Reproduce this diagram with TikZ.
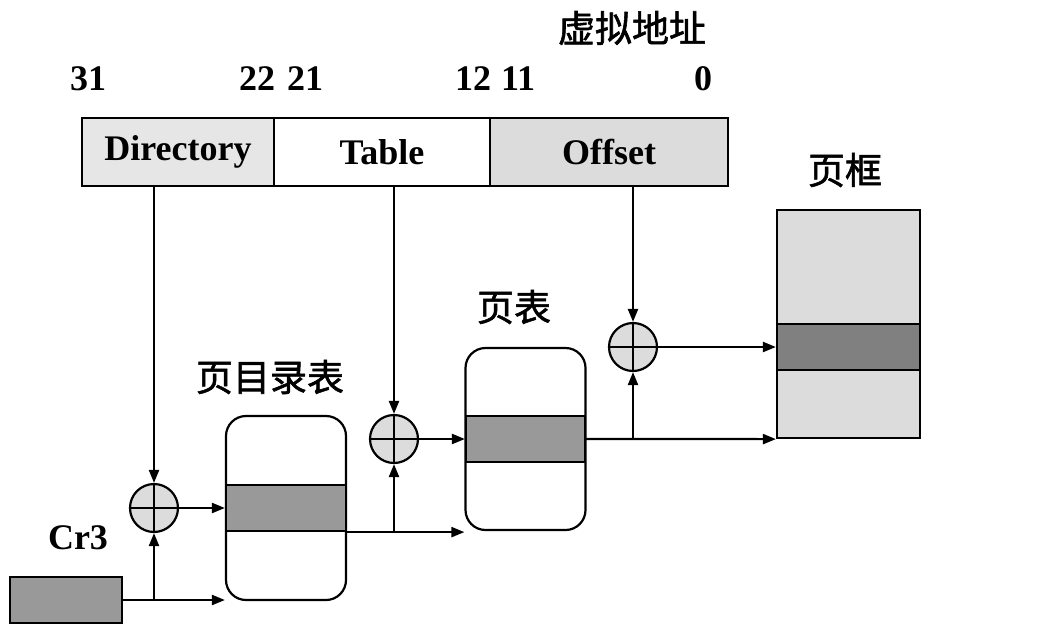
\documentclass[tikz,border=0pt]{standalone}
\usepackage{fontspec}
\setmainfont{Liberation Serif}
\newfontfamily\cjk{Noto Sans CJK SC}[FakeBold=1.5]
\usetikzlibrary{positioning,arrows.meta}

\definecolor{dirgray}{HTML}{E6E6E6}
\definecolor{litegray}{HTML}{DCDCDC}
\definecolor{midgray}{HTML}{999999}
\definecolor{darkgray}{HTML}{808080}

\tikzset{
  field/.style={draw, line width=2.2pt, minimum height=68pt, inner sep=0pt,
    font=\bfseries\fontsize{36}{36}\selectfont},
  memtab/.style={draw, line width=2.2pt, rounded corners=20pt, minimum width=120pt,
    minimum height=184pt, inner sep=0pt},
  entry/.style={draw, line width=2.2pt, fill=midgray, minimum height=46pt, inner sep=0pt},
  adder/.style={circle, draw, line width=2.2pt, fill=litegray, minimum size=48pt, inner sep=0pt,
    path picture={\draw[line width=2pt] (path picture bounding box.north) -- (path picture bounding box.south)
      (path picture bounding box.west) -- (path picture bounding box.east);}},
  lbl/.style={font=\bfseries\fontsize{36}{36}\selectfont},
  cnlbl/.style={font=\cjk\fontsize{37}{37}\selectfont}
}

\begin{document}
\begin{tikzpicture}[x=1pt, y=-1pt, line width=2.2pt, >={Triangle[length=13pt,width=10pt]}]
    \useasboundingbox (0,0) rectangle (1064,643);
    % virtual address
    \node[cnlbl] (va) at (632,28) {虚拟地址};
    \foreach \bit/\xx in {31/88, 22/257, 21/305, 12/473, 11/518, 0/703}
      \node[lbl] (b_\bit) at (\xx,79) {\bit};
    \node[field, fill=dirgray, minimum width=192pt] (dir) at (178,152) {Directory};
    \node[field, fill=white, minimum width=216pt]   (tab) at (382,152) {Table};
    \node[field, fill=litegray, minimum width=238pt] (off) at (609,152) {Offset};

    % cr3
    \node[lbl] (cr3_l) at (78,538) {Cr3};
    \node[draw, fill=midgray, minimum width=112pt, minimum height=46pt, inner sep=0pt] (cr3) at (66,600) {};

    % page directory
    \node[cnlbl] (pdt_l) at (270,377) {页目录表};
    \node[memtab] (pdt) at (286,508) {};
    \node[entry, minimum width=120pt] (pde) at (286,508) {};

    % page table
    \node[cnlbl] (pt_l) at (514,307) {页表};
    \node[memtab, minimum height=182pt] (pt) at (525.5,439) {};
    \node[entry, minimum width=119pt] (pte) at (525.5,439) {};

    % page frame
    \node[cnlbl] (pf_l) at (845,170) {页框};
    \node[draw, fill=litegray, minimum width=143pt, minimum height=228pt, inner sep=0pt] (pf) at (848.5,324) {};
    \node[draw, fill=darkgray, minimum width=143pt, minimum height=46pt, inner sep=0pt] (pfe) at (848.5,347) {};

    % adders
    \node[adder] (add_1) at (154,508) {};
    \node[adder] (add_2) at (394,439) {};
    \node[adder] (add_3) at (633,347) {};

    \draw[->] (add_1 |- dir.south) -- (add_1.north);
    \draw[->] (add_2 |- tab.south) -- (add_2.north);
    \draw[->] (add_3 |- off.south) -- (add_3.north);

    \draw[->] (cr3.east) -- (pdt.west |- cr3.east);
    \draw[->] (add_1 |- cr3.east) -- (add_1.south);
    \draw[->] (add_1.east) -- (pde.west);

    \draw[->] (pde.south east) -- (pt.west |- pde.south east);
    \draw[->] (add_2 |- pde.south east) -- (add_2.south);
    \draw[->] (add_2.east) -- (pte.west);

    \draw[->] (pte.east) -- (pf.south west);
    \draw[->] (add_3 |- pte.east) -- (add_3.south);
    \draw[->] (add_3.east) -- (pfe.west);
\end{tikzpicture}
\end{document}
